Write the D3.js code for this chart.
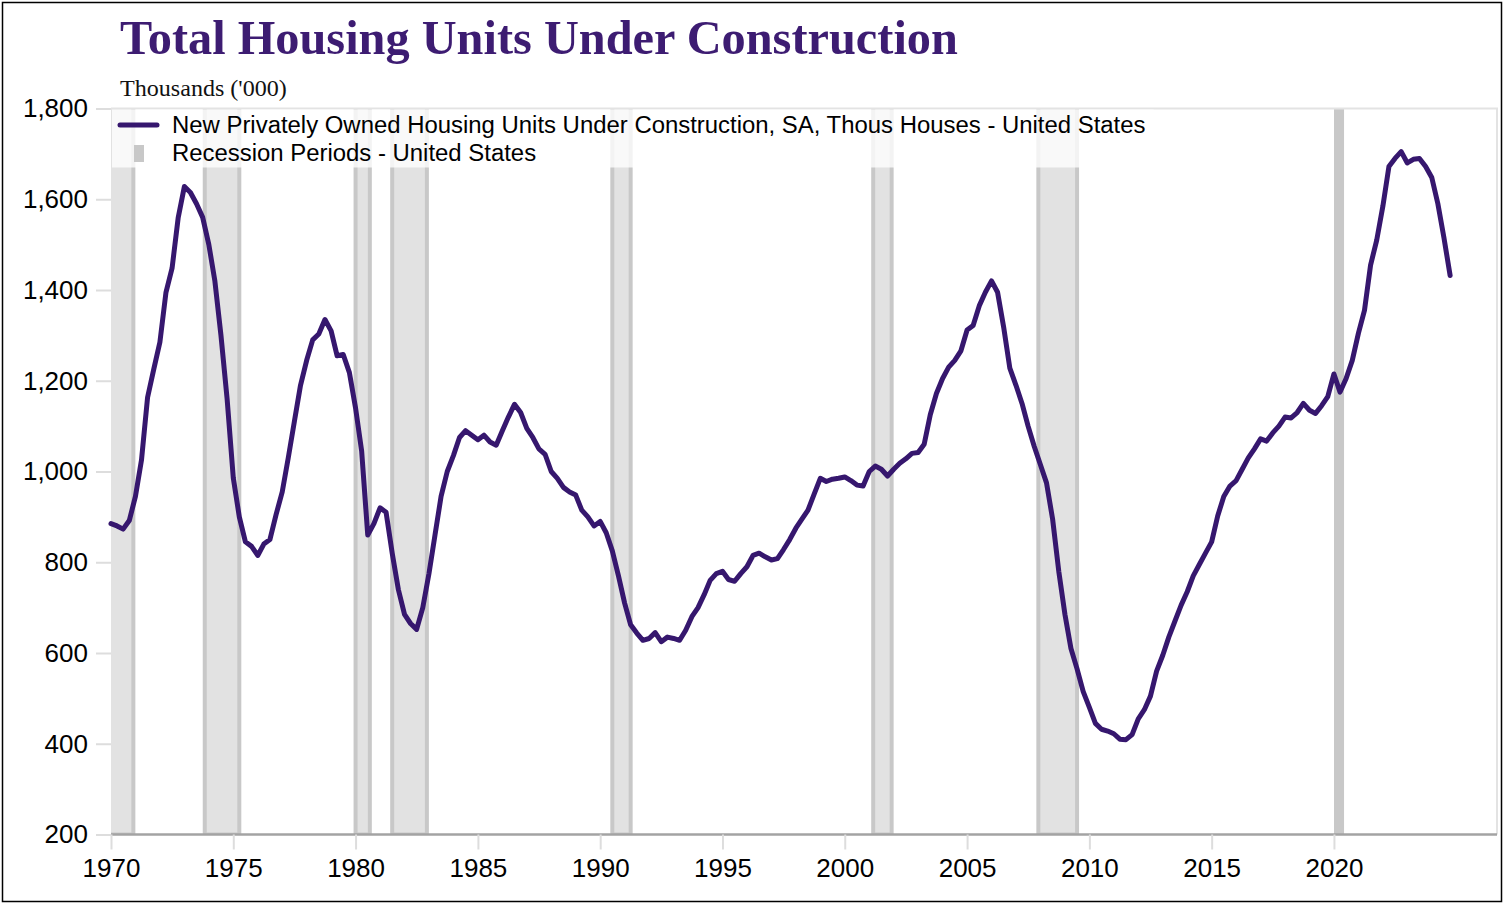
<!DOCTYPE html>
<html>
<head>
<meta charset="utf-8">
<title>Total Housing Units Under Construction</title>
<script src="https://cdn.jsdelivr.net/npm/d3@7"></script>
<style>
  body { margin: 0; background: #fff; }
  svg { display: block; }
</style>
</head>
<body>
<svg id="chart" width="1505" height="904"></svg>
<script>
// quarterly readings (Jan, Apr, Jul, Oct), thousands of units, starting Jan 1970
const startYear = 1970;
const units = [
  885, 880, 873, 892,     // 1970
  945, 1025, 1163, 1225,  // 1971
  1285, 1395, 1448, 1560, // 1972
  1628, 1615, 1590, 1560, // 1973
  1500, 1420, 1300, 1160, // 1974
  986, 900, 845, 835,     // 1975
  815, 840, 850, 905,     // 1976
  955, 1030, 1110, 1190,  // 1977
  1245, 1290, 1303, 1335, // 1978
  1310, 1255, 1258, 1218, // 1979
  1140, 1045, 860, 885,   // 1980
  920, 910, 820, 740,     // 1981
  685, 665, 652, 700,     // 1982
  775, 860, 945, 1000,    // 1983
  1035, 1075, 1090, 1080, // 1984
  1070, 1080, 1065, 1058, // 1985
  1090, 1120, 1148, 1130, // 1986
  1095, 1075, 1050, 1038, // 1987
  1000, 985, 965, 955,    // 1988
  948, 915, 900, 880,     // 1989
  890, 865, 825, 770,     // 1990
  710, 662, 644, 628,     // 1991
  632, 645, 625, 635,     // 1992
  632, 628, 650, 680,     // 1993
  700, 728, 760, 775,     // 1994
  780, 762, 758, 775,     // 1995
  790, 815, 820, 812,     // 1996
  805, 808, 828, 850,     // 1997
  875, 895, 915, 950,     // 1998
  985, 978, 983, 985,     // 1999
  988, 980, 970, 968,     // 2000
  1000, 1012, 1005, 990,  // 2001
  1005, 1018, 1028, 1040, // 2002
  1042, 1060, 1125, 1172, // 2003
  1205, 1230, 1245, 1266, // 2004
  1312, 1322, 1365, 1395, // 2005
  1420, 1395, 1318, 1228, // 2006
  1190, 1150, 1100, 1055, // 2007
  1015, 975, 895, 780,    // 2008
  685, 610, 565, 515,     // 2009
  480, 445, 432, 428,     // 2010
  422, 410, 409, 420,     // 2011
  455, 475, 505, 560,     // 2012
  595, 635, 670, 705,     // 2013
  735, 770, 795, 820,     // 2014
  845, 902, 945, 968,     // 2015
  980, 1005, 1030, 1050,  // 2016
  1072, 1067, 1085, 1100, // 2017
  1120, 1118, 1130, 1150, // 2018
  1135, 1128, 1145, 1165, // 2019
  1215, 1175, 1205, 1245, // 2020
  1305, 1355, 1455, 1510, // 2021
  1585, 1672, 1690, 1705, // 2022
  1680, 1688, 1690, 1672, // 2023
  1648, 1590, 1515, 1432  // 2024
];

// NBER recessions (first month, last month)
const recessionStarts = ["1969-12", "1973-11", "1980-01", "1981-07", "1990-07", "2001-03", "2007-12", "2020-02"];
const recessionEnds   = ["1970-11", "1975-03", "1980-07", "1982-11", "1991-03", "2001-11", "2009-06", "2020-04"];

const xTickYears = [1970, 1975, 1980, 1985, 1990, 1995, 2000, 2005, 2010, 2015, 2020];
const yTicks = [200, 400, 600, 800, 1000, 1200, 1400, 1600, 1800];

const titleText = "Total Housing Units Under Construction";
const subtitleText = "Thousands ('000)";
const seriesName = "New Privately Owned Housing Units Under Construction, SA, Thous Houses - United States";
const recessionName = "Recession Periods - United States";

const purple = "#36176e";
const sans = "'Liberation Sans', Arial, sans-serif";
const serif = "'Liberation Serif', 'Times New Roman', serif";

const svg = d3.select("#chart");
const plotLeft = 111, plotRight = 1497, plotTop = 108.5, plotBottom = 834.5;

const parseMonth = d3.timeParse("%Y-%m");
const data = units.map((v, i) => ({ date: new Date(startYear, i * 3, 1), value: v }));
// bars cover the whole last month
const recessions = recessionStarts.map((s, i) => ({
  start: parseMonth(s),
  end: d3.timeMonth.offset(parseMonth(recessionEnds[i]), 1)
}));

const x = d3.scaleTime()
  .domain([new Date(1970, 0, 1), new Date(2026, 8, 1)])
  .range([plotLeft, plotRight]);
const y = d3.scaleLinear()
  .domain([200, 1800])
  .range([plotBottom, plotTop]);

// outer frame
svg.append("rect")
  .attr("x", 2.5).attr("y", 2.5)
  .attr("width", 1499).attr("height", 899)
  .attr("fill", "#fff").attr("stroke", "#000").attr("stroke-width", 1.5);

// fit a text element to a target width by adjusting its font size
function fitWidth(sel, size, width) {
  sel.attr("font-size", size);
  const w = sel.node().getComputedTextLength();
  sel.attr("font-size", size * width / w);
}

const title = svg.append("text")
  .attr("x", 120).attr("y", 54)
  .attr("font-family", serif).attr("font-weight", "bold")
  .attr("fill", "#3d1c72")
  .text(titleText);
fitWidth(title, 44, 838);

const subtitle = svg.append("text")
  .attr("x", 120).attr("y", 96)
  .attr("font-family", serif)
  .attr("fill", "#111")
  .text(subtitleText);
fitWidth(subtitle, 22, 167);

svg.append("clipPath").attr("id", "plot-clip")
  .append("rect")
  .attr("x", plotLeft).attr("y", plotTop)
  .attr("width", plotRight - plotLeft).attr("height", plotBottom - plotTop);

const plot = svg.append("g").attr("clip-path", "url(#plot-clip)");

// recession bars (narrow ones are all edge colour)
plot.selectAll(".recession")
  .data(recessions)
  .join("rect")
  .attr("class", "recession")
  .attr("x", d => x(d.start))
  .attr("y", plotTop - 5)
  .attr("width", d => x(d.end) - x(d.start))
  .attr("height", plotBottom - plotTop + 5)
  .attr("fill", d => x(d.end) - x(d.start) < 10 ? "#c8c8c8" : "#e2e2e2")
  .attr("stroke", "#c8c8c8")
  .attr("stroke-width", 4);

// plot border (top and right)
svg.append("path")
  .attr("d", `M${plotLeft},${plotTop}H${plotRight}V${plotBottom}`)
  .attr("fill", "none")
  .attr("stroke", "#e3e3e3")
  .attr("stroke-width", 2);

// y axis
const yAxis = svg.append("g")
  .attr("transform", `translate(${plotLeft},0)`)
  .call(d3.axisLeft(y).tickValues(yTicks).tickSize(15).tickPadding(8).tickFormat(d3.format(",")));
yAxis.select(".domain").remove();
yAxis.selectAll(".tick line").attr("stroke", "#dddddd").attr("stroke-width", 2);
yAxis.selectAll(".tick text")
  .attr("font-family", sans).attr("font-size", 26).attr("fill", "#000");

// x axis
const xAxis = svg.append("g")
  .attr("transform", `translate(0,${plotBottom})`)
  .call(d3.axisBottom(x)
    .tickValues(xTickYears.map(yr => new Date(yr, 0, 1)))
    .tickSize(15).tickPadding(9)
    .tickFormat(d3.timeFormat("%Y")));
xAxis.select(".domain").attr("stroke", "#a3a3a3").attr("stroke-width", 2.5)
  .attr("d", `M${plotLeft},0H${plotRight}`);
xAxis.selectAll(".tick line").attr("stroke", "#dddddd").attr("stroke-width", 2);
xAxis.selectAll(".tick text")
  .attr("font-family", sans).attr("font-size", 26).attr("fill", "#000");

// series line
const line = d3.line()
  .x(d => x(d.date))
  .y(d => y(d.value));

svg.append("path")
  .datum(data)
  .attr("d", line)
  .attr("fill", "none")
  .attr("stroke", purple)
  .attr("stroke-width", 5)
  .attr("stroke-linejoin", "round")
  .attr("stroke-linecap", "round");

// legend
const legend = svg.append("g");
const legendBg = legend.append("rect")
  .attr("x", plotLeft + 1).attr("y", plotTop + 1)
  .attr("height", 58)
  .attr("fill", "#fff")
  .attr("fill-opacity", 0.78);

legend.append("line")
  .attr("x1", 120).attr("x2", 157)
  .attr("y1", 125).attr("y2", 125)
  .attr("stroke", purple).attr("stroke-width", 5)
  .attr("stroke-linecap", "round");
const t1 = legend.append("text")
  .attr("x", 172).attr("y", 132.5)
  .attr("font-family", sans).attr("fill", "#000")
  .text(seriesName);
fitWidth(t1, 21, 974);

legend.append("rect")
  .attr("x", 134).attr("y", 145)
  .attr("width", 10).attr("height", 17)
  .attr("fill", "#c8c8c8");
legend.append("text")
  .attr("x", 172).attr("y", 161)
  .attr("font-family", sans).attr("fill", "#000")
  .attr("font-size", t1.attr("font-size"))
  .text(recessionName);

legendBg.attr("width", 172 + t1.node().getComputedTextLength() + 8 - (plotLeft + 1));
</script>
</body>
</html>
